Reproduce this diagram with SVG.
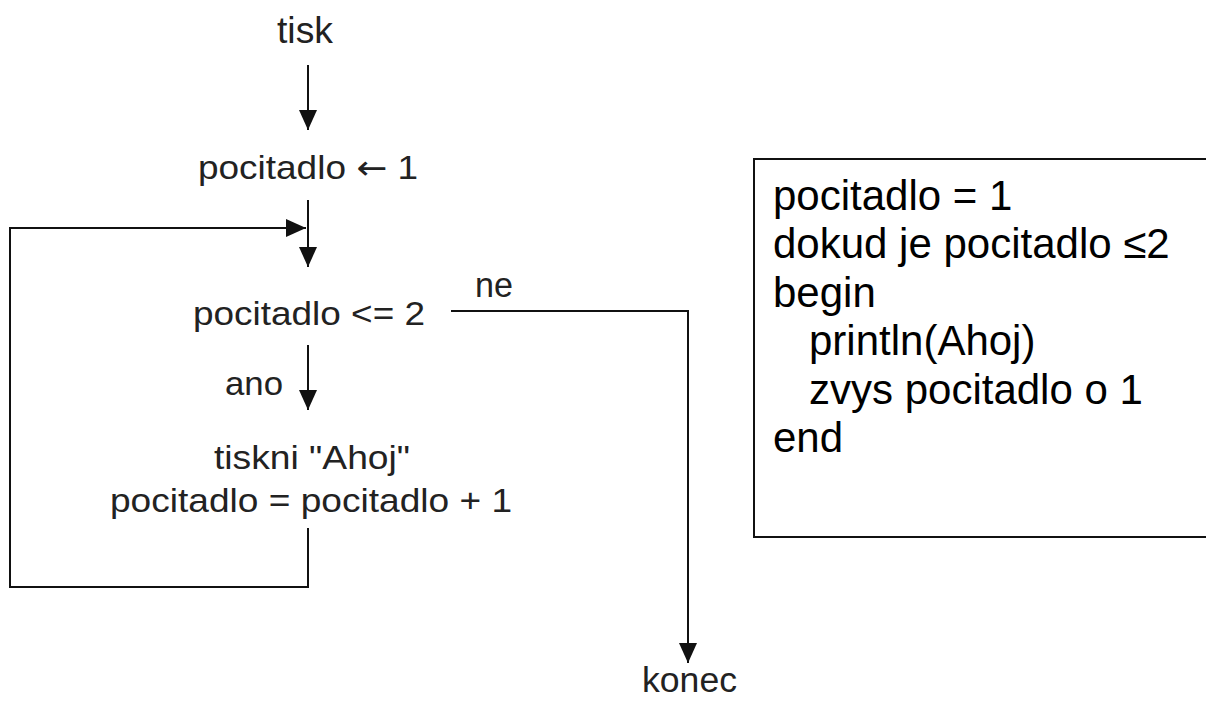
<svg xmlns="http://www.w3.org/2000/svg" width="1206" height="701" viewBox="0 0 1206 701">
<defs>
<style>
.lbl{font-family:"Liberation Sans",Arial,sans-serif;fill:#222;}
.arr{font-family:"DejaVu Sans",sans-serif;}
.code{font-family:"Liberation Sans",Arial,sans-serif;font-size:42px;fill:#000;}
.con{fill:none;stroke:#111;stroke-width:2;}
</style>
<marker id="ah" markerUnits="userSpaceOnUse" markerWidth="20" markerHeight="18" refX="20" refY="9" orient="auto">
<path d="M0,0 L20,9 L0,18 z" fill="#111"/>
</marker>
</defs>
<rect width="1206" height="701" fill="#fff"/>
<g id="connectors">
<line class="con" x1="308" y1="65" x2="308" y2="130" marker-end="url(#ah)"/>
<line class="con" x1="308" y1="200" x2="308" y2="267" marker-end="url(#ah)"/>
<polyline class="con" points="308,528 308,587 10,587 10,228 306,228" marker-end="url(#ah)"/>
<line class="con" x1="308" y1="345" x2="308" y2="410" marker-end="url(#ah)"/>
<polyline class="con" points="451,311 688,311 688,663" marker-end="url(#ah)"/>
</g>
<g id="n-tisk"><text class="lbl" x="277" y="43" font-size="37" textLength="56" lengthAdjust="spacingAndGlyphs">tisk</text></g>
<g id="n-init"><text class="lbl" x="198" y="179" font-size="33" textLength="220" lengthAdjust="spacingAndGlyphs">pocitadlo <tspan class="arr">←</tspan> 1</text></g>
<g id="n-cond"><text class="lbl" x="193" y="325" font-size="33" textLength="232" lengthAdjust="spacingAndGlyphs">pocitadlo &lt;= 2</text></g>
<g id="lbl-ne"><text class="lbl" x="475" y="297" font-size="35" textLength="38" lengthAdjust="spacingAndGlyphs">ne</text></g>
<g id="lbl-ano"><text class="lbl" x="225" y="395" font-size="34" textLength="58" lengthAdjust="spacingAndGlyphs">ano</text></g>
<g id="n-body">
<text class="lbl" x="214" y="469" font-size="34" textLength="196" lengthAdjust="spacingAndGlyphs">tiskni "Ahoj"</text>
<text class="lbl" x="110" y="512" font-size="33" textLength="402" lengthAdjust="spacingAndGlyphs">pocitadlo = pocitadlo + 1</text>
</g>
<g id="n-konec"><text class="lbl" x="642" y="692" font-size="35" textLength="95" lengthAdjust="spacingAndGlyphs">konec</text></g>
<g id="n-code">
<rect x="754" y="159" width="480" height="378" fill="none" stroke="#111" stroke-width="2"/>
<text class="code" x="773" y="210">pocitadlo = 1</text>
<text class="code" x="773" y="258">dokud je pocitadlo ≤2</text>
<text class="code" x="773" y="307">begin</text>
<text class="code" x="809" y="355">println(Ahoj)</text>
<text class="code" x="809" y="404">zvys pocitadlo o 1</text>
<text class="code" x="773" y="452">end</text>
</g>
</svg>
